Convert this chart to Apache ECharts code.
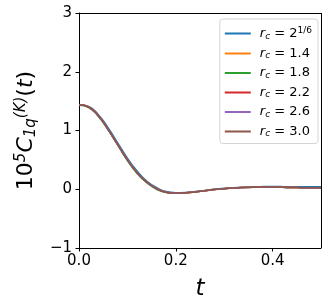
<!DOCTYPE html>
<html><head><meta charset="utf-8">
<script src="https://cdn.jsdelivr.net/npm/echarts@6/dist/echarts.min.js"></script>
<style>html,body{margin:0;padding:0;background:#fff}#c{width:327px;height:307px}</style>
</head><body><div id="c"></div>
<script>
const tValues = [0,0.02,0.04,0.06,0.08,0.10,0.12,0.14,0.16,0.18,0.20,0.22,0.24,0.26,0.28,0.30,0.32,0.34,0.36,0.38,0.40,0.42,0.44,0.46,0.48,0.50];
const seriesNames = ['2^{1/6}','1.4','1.8','2.2','2.6','3.0'];
const colors = ['#1f77b4','#ff7f0e','#2ca02c','#d62728','#9467bd','#8c564b'];
const rc_2_16 = [1.44,1.41,1.27,1.05,0.79,0.53,0.31,0.14,0.03,-0.04,-0.06,-0.055,-0.04,-0.02,0.0,0.015,0.027,0.036,0.042,0.045,0.046,0.045,0.044,0.043,0.042,0.042];
const rc_1_4  = [1.44,1.40,1.25,1.02,0.76,0.50,0.28,0.12,0.01,-0.05,-0.065,-0.06,-0.045,-0.025,-0.005,0.01,0.022,0.03,0.035,0.037,0.036,0.033,0.03,0.027,0.025,0.024];
const rc_1_8  = [1.43,1.39,1.24,1.01,0.75,0.49,0.27,0.11,0.0,-0.055,-0.07,-0.062,-0.046,-0.026,-0.006,0.01,0.022,0.03,0.035,0.037,0.036,0.033,0.03,0.027,0.025,0.024];
const rc_2_2  = [1.44,1.40,1.25,1.02,0.76,0.50,0.28,0.12,0.01,-0.05,-0.065,-0.06,-0.045,-0.025,-0.005,0.01,0.022,0.03,0.035,0.037,0.036,0.033,0.03,0.027,0.025,0.024];
const rc_2_6  = [1.44,1.40,1.25,1.02,0.76,0.50,0.28,0.12,0.01,-0.05,-0.065,-0.06,-0.045,-0.025,-0.005,0.01,0.022,0.03,0.035,0.037,0.036,0.033,0.03,0.027,0.025,0.024];
const rc_3_0  = [1.44,1.40,1.25,1.02,0.76,0.50,0.28,0.12,0.01,-0.05,-0.065,-0.06,-0.045,-0.025,-0.005,0.01,0.022,0.03,0.035,0.037,0.036,0.033,0.03,0.027,0.025,0.024];
const allData = [rc_2_16, rc_1_4, rc_1_8, rc_2_2, rc_2_6, rc_3_0];
const xTicks = [0, 0.2, 0.4];
const yTicks = [-1, 0, 1, 2, 3];

const font = 'DejaVu Sans';
const chart = echarts.init(document.getElementById('c'));
const series = seriesNames.map((n, i) => ({
  name: n, type: 'line', smooth: true, showSymbol: false, symbol: 'none',
  lineStyle: { width: 1.5, color: colors[i] }, itemStyle: { color: colors[i] },
  data: tValues.map((t, k) => [t, allData[i][k]]), z: 2 + i
}));
chart.setOption({
  animation: false,
  textStyle: { fontFamily: font },
  grid: { left: 79, right: 6, top: 13, bottom: 59 },
  xAxis: {
    type: 'value', min: 0, max: 0.5, interval: 0.2,
    name: 't', nameLocation: 'middle', nameGap: 30,
    nameTextStyle: { fontSize: 23, fontStyle: 'italic', color: '#000', fontFamily: font },
    axisLine: { show: true, onZero: false, lineStyle: { color: '#000', width: 1 } },
    axisTick: { show: true, inside: false, length: 3.5, lineStyle: { color: '#000' } },
    axisLabel: { fontSize: 15, color: '#000', margin: 6, formatter: v => xTicks.includes(+v.toFixed(2)) ? v.toFixed(1) : '', showMaxLabel: false },
    splitLine: { show: false }
  },
  yAxis: {
    type: 'value', min: -1, max: 3, interval: 1,
    name: '{n|10}{sp|5}{ni|C}{sb|1q}{sp|(K)}{n|(}{ni|t}{n|)}', nameLocation: 'middle', nameGap: 36, nameRotate: 90,
    nameTextStyle: { rich: {
      n: { fontSize: 22, color: '#000', fontFamily: font },
      ni: { fontSize: 22, color: '#000', fontFamily: font, fontStyle: 'italic' },
      sp: { fontSize: 15, color: '#000', fontFamily: font, fontStyle: 'italic', verticalAlign: 'top', padding: [0,0,10,0] },
      sb: { fontSize: 15, color: '#000', fontFamily: font, fontStyle: 'italic', verticalAlign: 'bottom', padding: [8,0,0,0] }
    } },
    axisLine: { show: true, onZero: false, lineStyle: { color: '#000', width: 1 } },
    axisTick: { show: true, inside: false, length: 3.5, lineStyle: { color: '#000' } },
    axisLabel: { fontSize: 15, color: '#000', margin: 7, formatter: v => v < 0 ? '\u2212' + Math.abs(v) : String(v) },
    splitLine: { show: false }
  },
  legend: {
    orient: 'vertical', right: 9, top: 19,
    backgroundColor: '#fff', borderColor: '#d5d5d5', borderWidth: 1, borderRadius: 3,
    padding: [7, 6, 5, 5], itemGap: 6, itemWidth: 26, itemHeight: 2, icon: 'rect',
    data: seriesNames,
    formatter: n => n === '2^{1/6}' ? '{g|}{i|r}{s|c}{t| = 2}{p|1/6}' : '{g|}{i|r}{s|c}{t| = ' + n + '}',
    textStyle: { color: '#000', rich: {
      g: { width: 4 },
      i: { fontSize: 13, fontStyle: 'italic', color: '#000', fontFamily: font },
      s: { fontSize: 9, fontStyle: 'italic', color: '#000', fontFamily: font, verticalAlign: 'bottom', padding: [5,0,0,0] },
      t: { fontSize: 13, color: '#000', fontFamily: font },
      p: { fontSize: 9, color: '#000', fontFamily: font, verticalAlign: 'top', padding: [0,0,6,0] }
    } }
  },
  series: series.concat([{
    type: 'line', data: [], silent: true,
    markLine: { silent: true, symbol: 'none', label: { show: false },
      lineStyle: { color: '#000', width: 1, type: 'solid' },
      data: [[{ coord: [0.5, -1] }, { coord: [0.5, 3] }], [{ coord: [0, 3] }, { coord: [0.5, 3] }]] }
  }])
});
</script></body></html>
